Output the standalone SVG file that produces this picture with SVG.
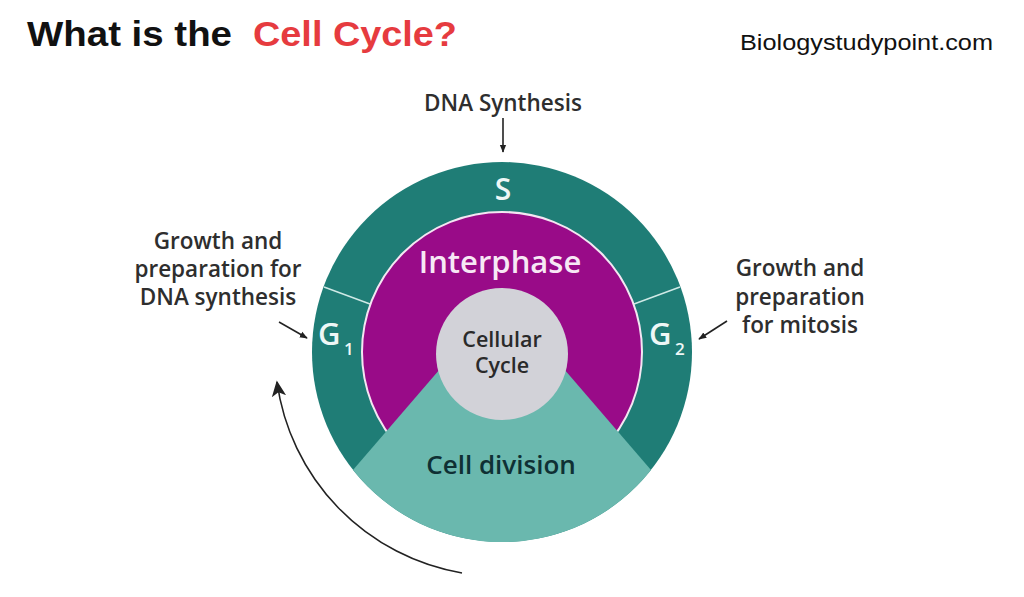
<svg xmlns="http://www.w3.org/2000/svg" width="1024" height="597" viewBox="0 0 1024 597">
<defs>
<style>
.lbl{font-family:"Open Sans","Noto Sans",sans-serif;font-size:22.5px;font-weight:600;fill:#2e2e2e;text-anchor:middle}
.wt{font-family:"Open Sans","Noto Sans",sans-serif;font-weight:600;fill:#eef7f6}
.arr{stroke:#222;stroke-width:1.6;fill:none}
</style>
<marker id="ah" viewBox="0 0 10 10" refX="9" refY="5" markerWidth="8" markerHeight="8" orient="auto" markerUnits="userSpaceOnUse">
<path d="M0,1 L10,5 L0,9 Z" fill="#222"/>
</marker>
<marker id="ahb" viewBox="0 0 10 10" refX="9" refY="5" markerWidth="16" markerHeight="16" orient="auto" markerUnits="userSpaceOnUse">
<path d="M0,0.5 L10,5 L0,9.5 L2.5,5 Z" fill="#222"/>
</marker>
</defs>
<rect width="1024" height="597" fill="#fff"/>
<g id="title">
<text x="27" y="46" font-family="Liberation Sans, Arial, sans-serif" font-weight="bold" font-size="35" fill="#111" textLength="205" lengthAdjust="spacingAndGlyphs">What is the</text>
<text x="253" y="46" font-family="Liberation Sans, Arial, sans-serif" font-weight="bold" font-size="35" fill="#e63b3f" textLength="204" lengthAdjust="spacingAndGlyphs">Cell Cycle?</text>
</g>
<g id="site">
<text x="740" y="50" font-family="Liberation Sans, Arial, sans-serif" font-size="22" fill="#111" textLength="253" lengthAdjust="spacingAndGlyphs">Biologystudypoint.com</text>
</g>
<g id="cycle">
<circle cx="502" cy="352" r="190" fill="#1f7d76"/>
<line x1="324" y1="287" x2="370" y2="304" stroke="#cfe9e6" stroke-width="1.5"/>
<line x1="680" y1="287" x2="634" y2="304" stroke="#cfe9e6" stroke-width="1.5"/>
<circle cx="502" cy="352" r="140" fill="#990b88" stroke="#f4e6f2" stroke-width="2"/>
<path d="M502 297 L353 470 A190 190 0 0 0 651 470 Z" fill="#6ab8ae"/>
<circle cx="502" cy="354" r="66" fill="#d2d2d8"/>
</g>
<g id="node-s"><text class="wt" x="503" y="200" font-size="30" text-anchor="middle">S</text></g>
<g id="node-interphase"><text x="500" y="273" font-family="Open Sans, Noto Sans, sans-serif" font-weight="600" font-size="31" fill="#f7e8f5" text-anchor="middle">Interphase</text></g>
<g id="node-center"><text font-family="Open Sans, Noto Sans, sans-serif" font-weight="600" font-size="21.5" fill="#2a2a2a" text-anchor="middle"><tspan x="502" y="347">Cellular</tspan><tspan x="502" y="373">Cycle</tspan></text></g>
<g id="node-division"><text x="501" y="474" font-family="Open Sans, Noto Sans, sans-serif" font-weight="600" font-size="26" fill="#0f3034" text-anchor="middle">Cell division</text></g>
<g id="node-g1"><text class="wt" x="318" y="345" font-size="31">G</text><text class="wt" x="344" y="355" font-size="17">1</text></g>
<g id="node-g2"><text class="wt" x="649" y="345" font-size="31">G</text><text class="wt" x="675" y="355" font-size="17">2</text></g>
<g id="label-dna"><text class="lbl" x="503" y="111">DNA Synthesis</text></g>
<g id="label-g1"><text class="lbl"><tspan x="218" y="249">Growth and</tspan><tspan x="218" y="277">preparation for</tspan><tspan x="218" y="305">DNA synthesis</tspan></text></g>
<g id="label-g2"><text class="lbl"><tspan x="800" y="276">Growth and</tspan><tspan x="800" y="305">preparation</tspan><tspan x="800" y="333">for mitosis</tspan></text></g>
<g id="connectors">
<line class="arr" x1="503" y1="118" x2="503" y2="152" marker-end="url(#ah)"/>
<line class="arr" x1="279" y1="322" x2="307" y2="338" marker-end="url(#ah)"/>
<line class="arr" x1="727" y1="321" x2="699" y2="339" marker-end="url(#ah)"/>
<path class="arr" d="M462 573 A225 225 0 0 1 277 382" marker-end="url(#ahb)"/>
</g>
</svg>
